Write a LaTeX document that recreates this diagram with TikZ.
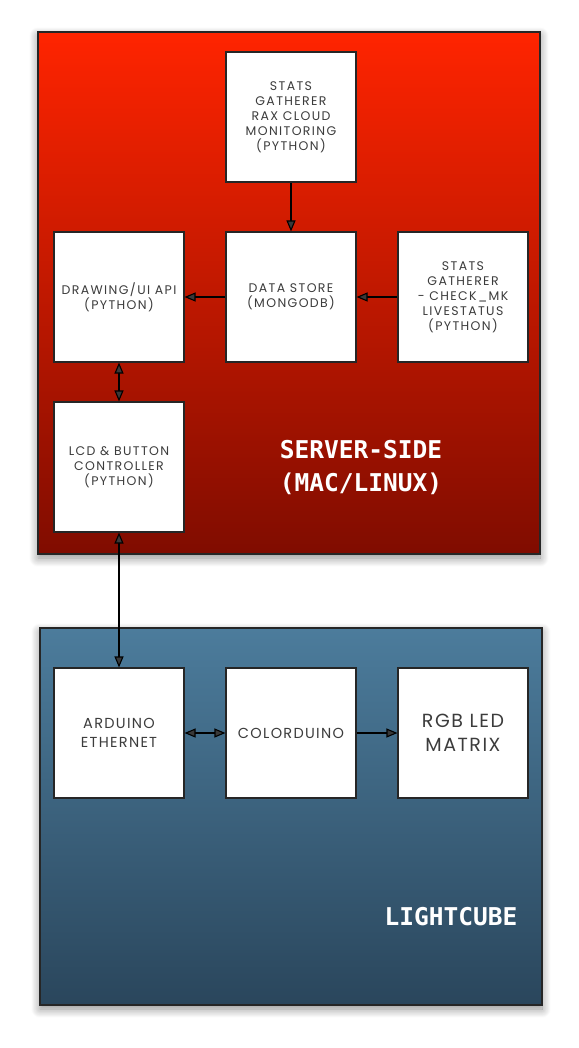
\documentclass[tikz,border=0pt]{standalone}
\usepackage{fontspec}
\setmainfont{Poppins}
\newfontfamily\titlefont{DejaVu Sans Mono}
\usetikzlibrary{arrows.meta,shadows.blur}
\definecolor{redtop}{RGB}{255,36,0}
\definecolor{redbot}{RGB}{128,12,0}
\definecolor{bluetop}{RGB}{76,124,156}
\definecolor{bluebot}{RGB}{42,70,92}
\definecolor{txt}{RGB}{60,60,60}
\tikzset{
  panel/.style={draw=black!85, line width=1.3pt, blur shadow={shadow xshift=0pt, shadow yshift=-4pt, shadow blur radius=9pt, shadow blur steps=12, shadow opacity=45}},
  blockbox/.style={draw=black!85, fill=white, line width=1.1pt, minimum width=130pt, minimum height=130pt, inner sep=0pt, align=center, text=txt},
  small/.style={font=\addfontfeature{LetterSpace=11}\fontsize{12.5}{15}\selectfont},
  mid/.style={font=\addfontfeature{LetterSpace=9}\fontsize{14.5}{19}\selectfont},
  big/.style={font=\addfontfeature{LetterSpace=8}\fontsize{19}{23.5}\selectfont},
  title/.style={text=white, align=center, font=\titlefont\bfseries\fontsize{24.5}{33}\selectfont},
  tip/.tip={Triangle[length=11pt,width=9pt]},
  conn/.style={line width=1.1pt, -tip},
  bconn/.style={line width=1.1pt, tip-tip}
}
\begin{document}
\begin{tikzpicture}[x=1pt,y=-1pt]
\useasboundingbox (0,0) rectangle (578,1048);
% panels
\path[panel, top color=redtop, bottom color=redbot] (38,32) rectangle (540,554);
\path[panel, top color=bluetop, bottom color=bluebot] (40,628) rectangle (542,1005);
% server-side blocks
\node[blockbox, small] (stats) at (291,117) {STATS\\GATHERER\\RAX CLOUD\\MONITORING\\(PYTHON)};
\node[blockbox, small] (draw) at (119,297) {DRAWING/UI API\\(PYTHON)};
\node[blockbox, small] (store) at (291,297) {DATA STORE\\(MONGODB)};
\node[blockbox, small] (check) at (463,297) {STATS\\GATHERER\\- CHECK\_MK\\LIVESTATUS\\(PYTHON)};
\node[blockbox, small] (lcd) at (119,467) {LCD \& BUTTON\\CONTROLLER\\(PYTHON)};
% lightcube blocks
\node[blockbox, mid] (ard) at (119,733) {ARDUINO\\ETHERNET};
\node[blockbox, mid] (color) at (291,733) {COLORDUINO};
\node[blockbox, big] (rgb) at (463,733) {RGB LED\\MATRIX};
% titles
\node[title] (srv) at (361,468) {SERVER-SIDE\\(MAC/LINUX)};
\node[title] (lc) at (451,917) {LIGHTCUBE};
% connectors
\draw[conn] (stats) -- (store);
\draw[conn] (store) -- (draw);
\draw[conn] (check) -- (store);
\draw[bconn] (draw) -- (lcd);
\draw[bconn] (lcd) -- (ard);
\draw[bconn] (ard) -- (color);
\draw[conn] (color) -- (rgb);
\end{tikzpicture}
\end{document}
